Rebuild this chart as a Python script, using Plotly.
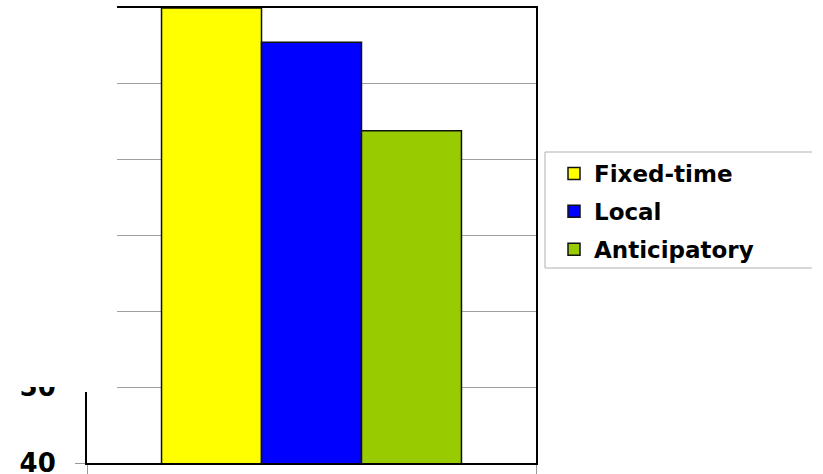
import plotly.graph_objects as go

# Chart data
categories = ["Delay"]
series_names = ["Fixed-time", "Local", "Anticipatory"]
series_values = [[100.0], [95.5], [83.8]]
series_colors = ["#FFFF00", "#0000FF", "#99CC00"]
y_ticks = [40, 50, 60, 70, 80, 90, 100]
y_tick_text = ["40", "50", "", "", "", "", ""]

W, H = 823, 474
L, R, T, B = 87, 287, 8, 11
pw, ph = W - L - R, H - T - B


def px_x(x):
    return (x - L) / pw


def px_y(y):
    return (H - B - y) / ph


fig = go.Figure()
for i, (name, vals, col) in enumerate(zip(series_names, series_values, series_colors)):
    fig.add_trace(go.Bar(
        x=categories, y=vals, name=name,
        marker=dict(color=col, line=dict(color="#111111", width=1.5)),
        legendgroup=name,
    ))

font_family = "DejaVu Sans, Verdana, sans-serif"

fig.update_layout(
    width=W, height=H,
    margin=dict(l=L, r=R, t=T, b=B, autoexpand=False),
    paper_bgcolor="white", plot_bgcolor="white",
    barmode="group", bargap=0.332, bargroupgap=0,
    showlegend=True,
    legend=dict(
        x=px_x(554), xanchor="left", y=px_y(152), yanchor="top",
        font=dict(family=font_family, size=23, color="black", weight="bold"),
        traceorder="grouped", tracegroupgap=5,
        bgcolor="rgba(0,0,0,0)", borderwidth=0, itemwidth=30,
    ),
    xaxis=dict(
        showline=True, linecolor="black", linewidth=2, mirror=True,
        ticks="outside", tickson="boundaries", ticklen=12, tickcolor="#999999",
        showticklabels=False, showgrid=False, zeroline=False,
    ),
    yaxis=dict(
        range=[40, 100], tickvals=y_ticks, ticktext=y_tick_text,
        showline=True, linecolor="black", linewidth=2, mirror=True,
        ticks="outside", ticklen=10, tickcolor="#999999",
        showgrid=True, gridcolor="#A0A0A0", gridwidth=1, zeroline=False,
        tickfont=dict(family=font_family, size=26, color="black", weight="bold"),
        ticklabelstandoff=14, ticklabeloverflow="allow",
    ),
)

# White panel masking the upper left corner of the axis area
fig.add_shape(type="rect", xref="paper", yref="paper", layer="above",
              x0=px_x(-5), x1=px_x(75), y0=px_y(387), y1=px_y(-5),
              line=dict(width=0), fillcolor="white")
fig.add_shape(type="rect", xref="paper", yref="paper", layer="above",
              x0=px_x(74), x1=px_x(117), y0=px_y(392), y1=px_y(-5),
              line=dict(width=0), fillcolor="white")

# Legend frame (open on the right side)
for (x0, y0, x1, y1) in [(545, 152, 812, 152), (545, 152, 545, 268), (545, 268, 812, 268)]:
    fig.add_shape(type="line", xref="paper", yref="paper", layer="above",
                  x0=px_x(x0), x1=px_x(x1), y0=px_y(y0), y1=px_y(y1),
                  line=dict(color="#B0B0B0", width=1))

fig.write_html("out.html")
